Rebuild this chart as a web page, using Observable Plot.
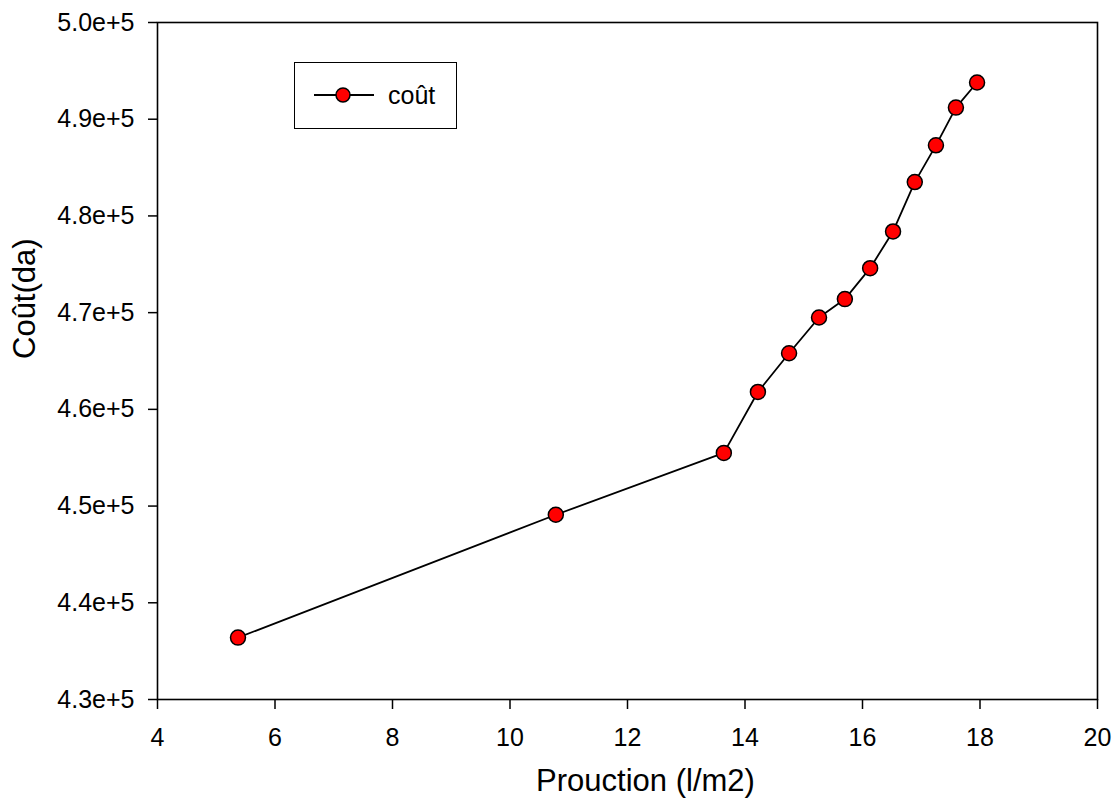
<!DOCTYPE html>
<html>
<head>
<meta charset="utf-8">
<script src="https://cdn.jsdelivr.net/npm/d3@7"></script>
<script src="https://cdn.jsdelivr.net/npm/@observablehq/plot@0.6"></script>
<style>
  html, body { margin: 0; padding: 0; background: #fff; }
  #wrap { position: relative; width: 1120px; height: 800px; font-family: "Liberation Sans", Arial, sans-serif; }
  #legend { position: absolute; left: 294px; top: 62px; width: 161px; height: 65px; border: 1.5px solid #000; background: #fff; }
  #legend svg { position: absolute; left: 18px; top: 20px; }
  #legend span { position: absolute; left: 93px; top: 17px; font-size: 25px; line-height: 30px; color: #000; }
</style>
</head>
<body>
<div id="wrap"></div>
<script>
// Data
const seriesName = "coût";
const production = [5.37, 10.78, 13.64, 14.22, 14.75, 15.26, 15.70, 16.13, 16.52, 16.89, 17.25, 17.59, 17.95];
const cost = [436400, 449100, 455500, 461800, 465800, 469500, 471400, 474600, 478400, 483500, 487300, 491200, 493800];
const xTicks = [4, 6, 8, 10, 12, 14, 16, 18, 20];
const yTicks = [430000, 440000, 450000, 460000, 470000, 480000, 490000, 500000];
const xTitle = "Prouction (l/m2)";
const yTitle = "Coût(da)";

const data = production.map((p, i) => ({production: p, cost: cost[i]}));
const font = "'Liberation Sans', Arial, sans-serif";

const chart = Plot.plot({
  width: 1120,
  height: 800,
  marginLeft: 157,
  marginRight: 23,
  marginTop: 22,
  marginBottom: 101,
  style: {fontFamily: font, fontSize: "25px", background: "white", color: "black"},
  x: {domain: [4, 20]},
  y: {domain: [430000, 500000]},
  marks: [
    Plot.frame({stroke: "black", strokeWidth: 1.6}),
    Plot.axisX({ticks: xTicks, tickSize: 10, tickPadding: 19, tickFormat: d3.format("d"), label: null, fontSize: 25, strokeWidth: 1.5}),
    Plot.axisY({ticks: yTicks, tickSize: 9, tickPadding: 14, tickFormat: d3.format(".1e"), label: null, fontSize: 25, strokeWidth: 1.5}),
    Plot.text([xTitle], {frameAnchor: "bottom", text: d => d, dx: 18, dy: 82, lineAnchor: "middle", fontSize: 31, fill: "black"}),
    Plot.text([yTitle], {frameAnchor: "left", text: d => d, rotate: -90, dx: -132, dy: -2, lineAnchor: "middle", fontSize: 31, fill: "black"}),
    Plot.line(data, {x: "production", y: "cost", stroke: "black", strokeWidth: 1.8}),
    Plot.dot(data, {x: "production", y: "cost", r: 7.5, fill: "#ff0000", stroke: "black", strokeWidth: 1.5})
  ]
});

const wrap = document.getElementById("wrap");
wrap.appendChild(chart);

const legend = document.createElement("div");
legend.id = "legend";
legend.innerHTML = `<svg width="64" height="24" viewBox="0 0 64 24">
  <line x1="1" y1="12" x2="61" y2="12" stroke="black" stroke-width="1.8"/>
  <circle cx="30" cy="12" r="7" fill="#ff0000" stroke="black" stroke-width="1.5"/>
</svg><span></span>`;
legend.querySelector("span").textContent = seriesName;
wrap.appendChild(legend);
</script>
</body>
</html>
